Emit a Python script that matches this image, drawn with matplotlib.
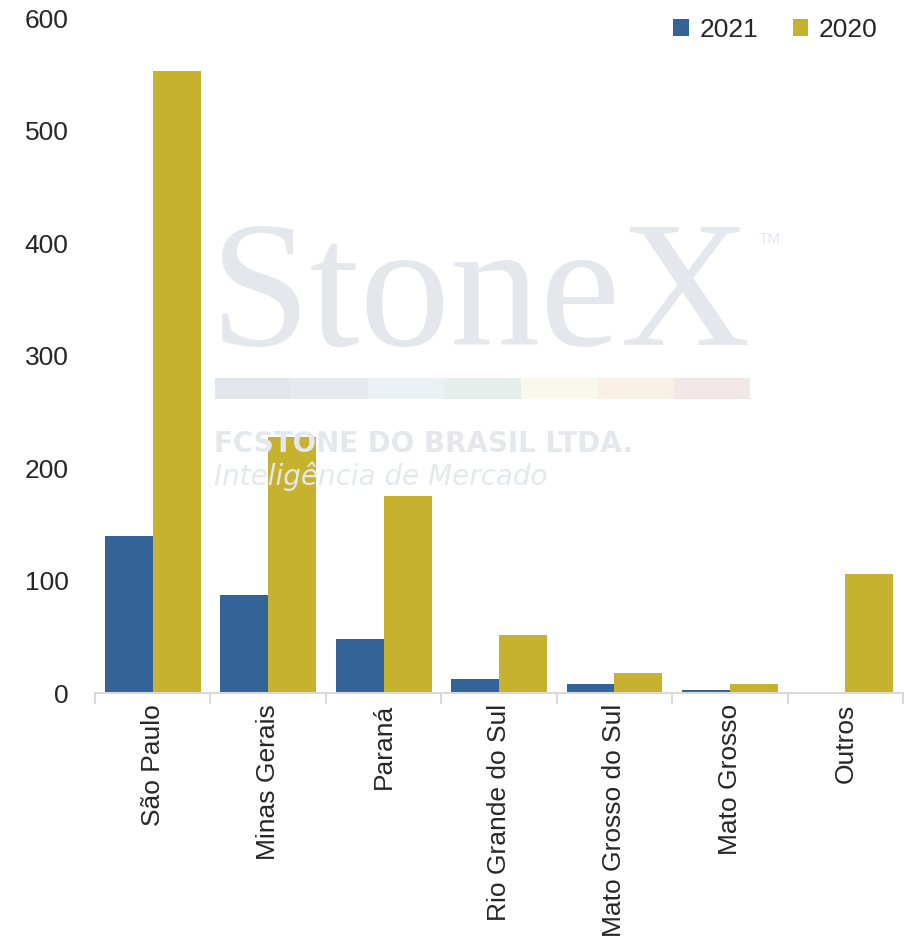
import numpy as np
import matplotlib
matplotlib.use("Agg")
import matplotlib.pyplot as plt
import matplotlib.patches as patches

plt.rcParams['font.family'] = ['Liberation Sans', 'DejaVu Sans']

categories = ['São Paulo', 'Minas Gerais', 'Paraná', 'Rio Grande do Sul',
              'Mato Grosso do Sul', 'Mato Grosso', 'Outros']
vals_2021 = [140, 87, 48, 12.5, 7.7, 2.7, 1]
vals_2020 = [553, 227.5, 175, 51.5, 17.8, 8, 106]
series_names = ['2021', '2020']
y_ticks = [0, 100, 200, 300, 400, 500, 600]

c_blue = '#336397'
c_gold = '#C7B22F'
c_axis = '#D9D9D9'
c_text = '#262626'

fig = plt.figure(figsize=(9.08, 9.5), dpi=100)
fig.set_facecolor('white')
ax = fig.add_axes([0.1046, 0.2705, 0.89, 0.7105])
ax.set_facecolor('none')

# watermark behind the bars
wm = '#E4E7EC'
fig.text(0.231, 0.637, 'StoneX', family='Liberation Serif', fontsize=130,
         color=wm, zorder=0)
fig.text(0.836, 0.744, 'TM', fontsize=11, color=wm, zorder=0)
stripe = ['#E2E5EA', '#E6E9EE', '#EBF1F5', '#E5EEEB', '#F8F8EC', '#FAF1E5', '#F3E6E7']
x0, w = 215 / 908, (750 - 215) / 908 / 7
for i, c in enumerate(stripe):
    fig.patches.append(patches.Rectangle((x0 + i * w, 1 - 399 / 950), w, 21 / 950,
                                         facecolor=c, edgecolor='none',
                                         transform=fig.transFigure, zorder=0))
fig.text(0.236, 0.524, 'FCSTONE DO BRASIL LTDA.', family='DejaVu Sans', fontsize=20,
         weight='bold', color=wm, zorder=0)
fig.text(0.236, 0.489, 'Inteligência de Mercado', family='DejaVu Sans', fontsize=20,
         style='italic', color=wm, zorder=0)

x = np.arange(len(categories))
bw = 0.415
ax.bar(x - bw / 2, vals_2021, bw, color=c_blue, label=series_names[0], zorder=2)
ax.bar(x + bw / 2, vals_2020, bw, color=c_gold, label=series_names[1], zorder=2)

ax.set_xlim(-0.5, len(categories) - 0.5)
ax.set_ylim(0, 600)
ax.set_yticks(y_ticks)
ax.tick_params(axis='y', length=0, pad=19, labelsize=19, labelcolor=c_text)

ax.set_xticks(x)
ax.set_xticklabels(categories, rotation=90, fontsize=19, color=c_text)
ax.tick_params(axis='x', length=0, pad=8)
ax.set_xticks(np.arange(len(categories) + 1) - 0.5, minor=True)
ax.tick_params(axis='x', which='minor', length=8, width=1.5, color=c_axis)

for s in ['top', 'right', 'left']:
    ax.spines[s].set_visible(False)
ax.spines['bottom'].set_color(c_axis)
ax.spines['bottom'].set_linewidth(1.5)

ax.legend(loc='upper right', bbox_to_anchor=(0.998, 1.035), ncol=2, frameon=False,
          fontsize=19, handlelength=0.6, handleheight=0.6, handletextpad=0.4,
          columnspacing=1.3)
for t in ax.get_legend().get_texts():
    t.set_color(c_text)

fig.savefig('out.png', dpi=100, facecolor='white')
